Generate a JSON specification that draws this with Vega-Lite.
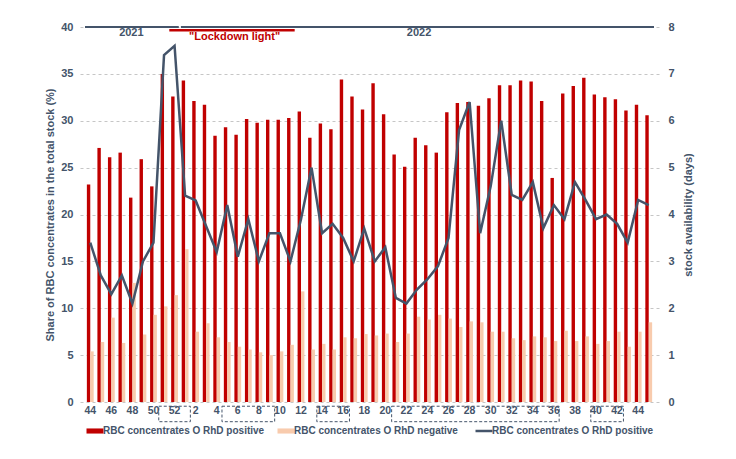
{
  "$schema": "https://vega.github.io/schema/vega-lite/v6.json",
  "width": 579,
  "height": 375,
  "autosize": {"type": "none"},
  "padding": {"left": 80, "top": 27, "right": 77, "bottom": 57},
  "background": "white",
  "config": {
    "view": {"stroke": null},
    "font": "Liberation Sans",
    "axis": {"labelFont": "Liberation Sans", "titleFont": "Liberation Sans", "labelColor": "#44546a", "titleColor": "#44546a", "labelFontWeight": "bold", "titleFontWeight": "bold", "labelFontSize": 11, "titleFontSize": 11}
  },
  "datasets": {
    "weeks": [
      {"year": 2021, "week": 44, "pos": 23.2, "neg": 5.4, "days": 3.4},
      {"year": 2021, "week": 45, "pos": 27.1, "neg": 6.4, "days": 2.7},
      {"year": 2021, "week": 46, "pos": 26.1, "neg": 9.0, "days": 2.3},
      {"year": 2021, "week": 47, "pos": 26.6, "neg": 6.3, "days": 2.7},
      {"year": 2021, "week": 48, "pos": 21.8, "neg": 12.7, "days": 2.1},
      {"year": 2021, "week": 49, "pos": 25.9, "neg": 7.2, "days": 3.0},
      {"year": 2021, "week": 50, "pos": 23.0, "neg": 9.3, "days": 3.4},
      {"year": 2021, "week": 51, "pos": 35.0, "neg": 10.2, "days": 7.4},
      {"year": 2021, "week": 52, "pos": 32.6, "neg": 11.4, "days": 7.6},
      {"year": 2022, "week": 1, "pos": 34.3, "neg": 16.3, "days": 4.4},
      {"year": 2022, "week": 2, "pos": 32.1, "neg": 7.5, "days": 4.3},
      {"year": 2022, "week": 3, "pos": 31.7, "neg": 8.4, "days": 3.75},
      {"year": 2022, "week": 4, "pos": 28.4, "neg": 6.9, "days": 3.2},
      {"year": 2022, "week": 5, "pos": 29.3, "neg": 6.4, "days": 4.2},
      {"year": 2022, "week": 6, "pos": 28.5, "neg": 5.9, "days": 3.1},
      {"year": 2022, "week": 7, "pos": 30.2, "neg": 5.6, "days": 3.9},
      {"year": 2022, "week": 8, "pos": 29.8, "neg": 5.3, "days": 3.0},
      {"year": 2022, "week": 9, "pos": 30.1, "neg": 5.0, "days": 3.6},
      {"year": 2022, "week": 10, "pos": 30.1, "neg": 5.4, "days": 3.6},
      {"year": 2022, "week": 11, "pos": 30.3, "neg": 6.1, "days": 3.0},
      {"year": 2022, "week": 12, "pos": 31.0, "neg": 11.8, "days": 3.9},
      {"year": 2022, "week": 13, "pos": 28.2, "neg": 5.6, "days": 5.0},
      {"year": 2022, "week": 14, "pos": 29.7, "neg": 6.2, "days": 3.6},
      {"year": 2022, "week": 15, "pos": 29.1, "neg": 5.6, "days": 3.8},
      {"year": 2022, "week": 16, "pos": 34.4, "neg": 6.9, "days": 3.5},
      {"year": 2022, "week": 17, "pos": 32.6, "neg": 6.8, "days": 3.0},
      {"year": 2022, "week": 18, "pos": 31.2, "neg": 7.25, "days": 3.7},
      {"year": 2022, "week": 19, "pos": 34.0, "neg": 7.1, "days": 3.0},
      {"year": 2022, "week": 20, "pos": 30.7, "neg": 7.3, "days": 3.3},
      {"year": 2022, "week": 21, "pos": 26.4, "neg": 6.4, "days": 2.22},
      {"year": 2022, "week": 22, "pos": 25.1, "neg": 7.3, "days": 2.1},
      {"year": 2022, "week": 23, "pos": 28.2, "neg": 9.1, "days": 2.4},
      {"year": 2022, "week": 24, "pos": 27.4, "neg": 8.8, "days": 2.62},
      {"year": 2022, "week": 25, "pos": 26.6, "neg": 9.3, "days": 2.9},
      {"year": 2022, "week": 26, "pos": 30.9, "neg": 8.9, "days": 3.5},
      {"year": 2022, "week": 27, "pos": 31.9, "neg": 8.0, "days": 5.8},
      {"year": 2022, "week": 28, "pos": 32.0, "neg": 8.6, "days": 6.4},
      {"year": 2022, "week": 29, "pos": 31.6, "neg": 8.5, "days": 3.6},
      {"year": 2022, "week": 30, "pos": 32.4, "neg": 7.5, "days": 4.6},
      {"year": 2022, "week": 31, "pos": 33.8, "neg": 7.5, "days": 6.0},
      {"year": 2022, "week": 32, "pos": 33.8, "neg": 6.8, "days": 4.42},
      {"year": 2022, "week": 33, "pos": 34.3, "neg": 6.6, "days": 4.31},
      {"year": 2022, "week": 34, "pos": 34.2, "neg": 7.0, "days": 4.69},
      {"year": 2022, "week": 35, "pos": 32.1, "neg": 6.9, "days": 3.71},
      {"year": 2022, "week": 36, "pos": 23.9, "neg": 6.5, "days": 4.2},
      {"year": 2022, "week": 37, "pos": 32.9, "neg": 7.6, "days": 3.9},
      {"year": 2022, "week": 38, "pos": 33.7, "neg": 6.5, "days": 4.69},
      {"year": 2022, "week": 39, "pos": 34.6, "neg": 7.0, "days": 4.31},
      {"year": 2022, "week": 40, "pos": 32.8, "neg": 6.2, "days": 3.9},
      {"year": 2022, "week": 41, "pos": 32.5, "neg": 6.5, "days": 4.0},
      {"year": 2022, "week": 42, "pos": 32.3, "neg": 7.5, "days": 3.8},
      {"year": 2022, "week": 43, "pos": 31.1, "neg": 5.9, "days": 3.4},
      {"year": 2022, "week": 44, "pos": 31.7, "neg": 7.5, "days": 4.31},
      {"year": 2022, "week": 45, "pos": 30.6, "neg": 8.5, "days": 4.2}
    ],
    "years": [
      {"label": "2021", "from": 43.5, "to": 52.4, "mid": 47.9},
      {"label": "2022", "from": 52.6, "to": 97.5, "mid": 75.2}
    ],
    "lockdown": [
      {"label": "\"Lockdown light\"", "from": 51.5, "to": 63.4, "mid": 57.7}
    ],
    "boxes": [
      {"from": 50.5, "to": 53.5},
      {"from": 56.5, "to": 61.5},
      {"from": 65.5, "to": 68.6},
      {"from": 72.6, "to": 88.5},
      {"from": 91.5, "to": 94.6}
    ]
  },
  "layer": [
    {
      "layer": [
        {
          "data": {"name": "weeks"},
          "transform": [{"calculate": "datum.year === 2022 ? datum.week + 52 : datum.week", "as": "t"}],
          "mark": {"type": "bar", "size": 3.4, "xOffset": -1.7},
          "encoding": {
            "x": {
              "field": "t", "type": "quantitative",
              "scale": {"domain": [43.5, 97.5], "nice": false, "zero": false},
              "axis": {"title": null, "labels": false, "ticks": false, "domain": false, "grid": false}
            },
            "y": {
              "field": "pos", "type": "quantitative",
              "scale": {"domain": [0, 40], "nice": false},
              "axis": {
                "title": "Share of RBC concentrates in the total stock (%)",
                "values": [0, 5, 10, 15, 20, 25, 30, 35, 40],
                "grid": true, "gridDash": [3, 3], "gridColor": "#c6c6c6", "gridWidth": 1,
                "domain": false, "ticks": false, "labelPadding": 7, "titlePadding": 5
              }
            },
            "color": {
              "datum": "a",
              "scale": {"domain": ["a", "b", "c"], "range": ["#c00000", "#f8cbad", "#44546a"]},
              "legend": {
                "orient": "none", "legendX": 10, "legendY": 399, "direction": "horizontal", "title": null, "padding": 0,
                "labelExpr": "datum.value === 'b' ? 'RBC concentrates O RhD negative' : 'RBC concentrates O RhD positive'",
                "symbolSize": 289, "labelOffset": 3, "columnPadding": 12, "labelLimit": 400,
                "labelFont": "Liberation Sans", "labelFontSize": 10, "labelFontWeight": "bold", "labelColor": "#44546a",
                "encode": {
                  "symbols": {
                    "update": {
                      "shape": {"signal": "datum.value === 'c' ? 'stroke' : 'M-1,-0.3H1V0.3H-1Z'"},
                      "fill": {"signal": "datum.value === 'a' ? '#c00000' : datum.value === 'b' ? '#f8cbad' : 'transparent'"},
                      "stroke": {"signal": "datum.value === 'c' ? '#44546a' : 'transparent'"},
                      "strokeWidth": {"signal": "datum.value === 'c' ? 2.5 : 0"},
                      "size": {"value": 289},
                      "opacity": {"value": 1}
                    }
                  }
                }
              }
            }
          }
        },
        {
          "data": {"name": "weeks"},
          "transform": [{"calculate": "datum.year === 2022 ? datum.week + 52 : datum.week", "as": "t"}],
          "mark": {"type": "bar", "size": 3.4, "xOffset": 1.7},
          "encoding": {
            "x": {"field": "t", "type": "quantitative"},
            "y": {"field": "neg", "type": "quantitative"},
            "color": {"datum": "b"}
          }
        },
        {
          "data": {"name": "weeks"},
          "transform": [
            {"calculate": "datum.year === 2022 ? datum.week + 52 : datum.week", "as": "t"},
            {"filter": "datum.week % 2 === 0"}
          ],
          "mark": {"type": "text", "color": "#44546a", "font": "Liberation Sans", "fontSize": 10.5, "fontWeight": "bold", "baseline": "middle"},
          "encoding": {
            "x": {"field": "t", "type": "quantitative"},
            "y": {"datum": -0.96},
            "text": {"field": "week"}
          }
        },
        {
          "data": {"name": "years"},
          "mark": {"type": "rule", "color": "#44546a", "strokeWidth": 2},
          "encoding": {
            "x": {"field": "from", "type": "quantitative"},
            "x2": {"field": "to"},
            "y": {"datum": 40}
          }
        },
        {
          "data": {"name": "years"},
          "mark": {"type": "text", "color": "#44546a", "font": "Liberation Sans", "fontSize": 11, "fontWeight": "bold", "baseline": "middle", "dy": 6},
          "encoding": {
            "x": {"field": "mid", "type": "quantitative"},
            "y": {"datum": 40},
            "text": {"field": "label"}
          }
        },
        {
          "data": {"name": "lockdown"},
          "mark": {"type": "rule", "color": "#c00000", "strokeWidth": 2.5},
          "encoding": {
            "x": {"field": "from", "type": "quantitative"},
            "x2": {"field": "to"},
            "y": {"datum": 39.65}
          }
        },
        {
          "data": {"name": "lockdown"},
          "mark": {"type": "text", "color": "#c00000", "font": "Liberation Sans", "fontSize": 11, "fontWeight": "bold", "baseline": "middle", "dy": 7},
          "encoding": {
            "x": {"field": "mid", "type": "quantitative"},
            "y": {"datum": 39.65},
            "text": {"field": "label"}
          }
        },
        {
          "data": {"name": "boxes"},
          "mark": {"type": "rect", "fill": null, "fillOpacity": 0, "stroke": "#44546a", "strokeWidth": 1, "strokeDash": [3, 2]},
          "encoding": {
            "x": {"field": "from", "type": "quantitative"},
            "x2": {"field": "to"},
            "y": {"datum": -0.45},
            "y2": {"datum": -2.1}
          }
        }
      ]
    },
    {
      "data": {"name": "weeks"},
      "transform": [{"calculate": "datum.year === 2022 ? datum.week + 52 : datum.week", "as": "t"}],
      "mark": {"type": "line", "strokeWidth": 2.5, "strokeJoin": "miter"},
      "encoding": {
        "x": {"field": "t", "type": "quantitative"},
        "y": {
          "field": "days", "type": "quantitative",
          "scale": {"domain": [0, 8], "nice": false},
          "axis": {
            "orient": "right", "title": "stock availability (days)", "values": [0, 1, 2, 3, 4, 5, 6, 7, 8],
            "grid": false, "domain": false, "ticks": false, "labelPadding": 9, "titlePadding": 8,
            "titleAngle": 270, "titleBaseline": "top"
          }
        },
        "color": {"datum": "c"}
      }
    }
  ],
  "resolve": {"scale": {"y": "independent"}}
}
